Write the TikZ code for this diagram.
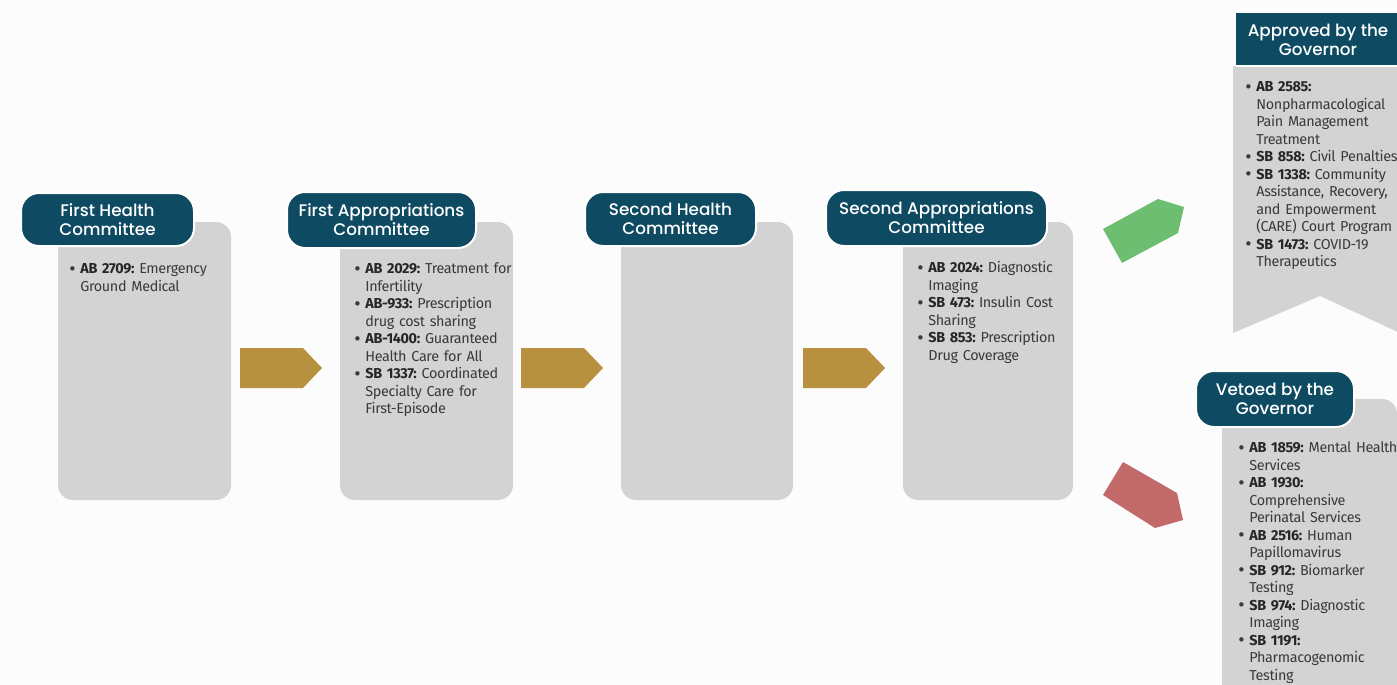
\documentclass[tikz,border=0pt]{standalone}
\usepackage{fontspec}
\setmainfont{Fira Sans}[LetterSpace=-2.5]
\IfFontExistsTF{Poppins Medium}{\newfontfamily\titlefont{Poppins Medium}}{\newfontfamily\titlefont{Poppins}[FakeBold=0.4]}
\definecolor{bgc}{HTML}{FCFCFC}
\definecolor{tealc}{HTML}{0E4A62}
\definecolor{boxgray}{HTML}{D3D3D3}
\definecolor{goldc}{HTML}{B7913F}
\definecolor{greenc}{HTML}{6DBE70}
\definecolor{redc}{HTML}{C26A6A}
\definecolor{bodytext}{HTML}{3A3A3A}
\frenchspacing
\newcommand\bitem[2]{\par\noindent\hangindent=5.5pt\hangafter=1\makebox[5.5pt][l]{\raisebox{-0.2ex}{\scalebox{1.35}{\textbullet}}}\textbf{\color{black!85}#1} #2\par}
\begin{document}
\begin{tikzpicture}[x=0.5pt,y=-0.5pt,
  gbox/.style={fill=boxgray, rounded corners=7.5pt},
  pill/.style={fill=tealc, draw=white, line width=1pt, rounded corners=9pt},
  ttl/.style={text=white, inner sep=0pt, font=\titlefont\fontsize{8.4}{9.5}\selectfont, align=center},
  body/.style={anchor=north west, inner sep=0pt, text=bodytext, font=\frenchspacing\fontsize{7.2}{8.75}\selectfont, align=left, text width=#1},
  goldarrow/.style={fill=goldc},
  okarrow/.style={fill=greenc},
  noarrow/.style={fill=redc}]
\useasboundingbox (0,0) rectangle (1397,685);
\clip (0,0) rectangle (1397,685);
\fill[bgc] (0,0) rectangle (1397,685);

% gray boxes
\fill[gbox] (58,222) rectangle (231,500);
\fill[gbox] (340,222) rectangle (513,500);
\fill[gbox] (621,222) rectangle (793,500);
\fill[gbox] (903,222) rectangle (1073,500);

% title pills
\draw[pill] (21,193) rectangle (194,246);
\node[ttl] (t1) at (107.5,220) {First Health\\Committee};
\draw[pill] (287,192) rectangle (476,248);
\node[ttl] (t2) at (381.5,220) {First Appropriations\\Committee};
\draw[pill] (585,192) rectangle (756,246);
\node[ttl] (t3) at (670.5,219) {Second Health\\Committee};
\draw[pill] (826,190) rectangle (1047,246);
\node[ttl] (t4) at (936.5,218) {Second Appropriations\\Committee};

% body texts
\node[body=100pt] (b1) at (69,256) {\bitem{AB 2709:}{Emergency\newline Ground Medical}};
\node[body=100pt] (b2) at (354,256) {\bitem{AB 2029:}{Treatment for\newline Infertility}\bitem{AB-933:}{Prescription\newline drug cost sharing}\bitem{AB-1400:}{Guaranteed\newline Health Care for All}\bitem{SB 1337:}{Coordinated\newline Specialty Care for\newline First-Episode}};
\node[body=100pt] (b4) at (917,255) {\bitem{AB 2024:}{Diagnostic\newline Imaging}\bitem{SB 473:}{Insulin Cost\newline Sharing}\bitem{SB 853:}{Prescription\newline Drug Coverage}};

% gold arrows
\foreach \x/\n in {240/a1,521/a2,803/a3}{
  \fill[goldarrow] (\x,348) -- (\x+63,348) -- (\x+82,368) -- (\x+63,388) -- (\x,388) -- cycle;
}

% green and red arrows
\fill[okarrow] (1103,229) -- (1158,199) -- (1184,207) -- (1178,233) -- (1122,263) -- cycle;
\fill[noarrow] (1103,495) -- (1123,462) -- (1177,493) -- (1183,520) -- (1155,528) -- cycle;

% approved panel
\fill[boxgray] (1233,66) -- (1400,66) -- (1400,333) -- (1320,296) -- (1233,333) -- cycle;
\fill[tealc] (1236,13) rectangle (1400,65);
\draw[white, line width=0.8pt] (1236,66) -- (1400,66);
\node[ttl] (tapp) at (1318,40) {Approved by the\\Governor};
\node[body=100pt] (bapp) at (1245,74) {\bitem{AB 2585:}{\newline Nonpharmacological\newline Pain Management\newline Treatment}\bitem{SB 858:}{Civil Penalties}\bitem{SB 1338:}{Community\newline Assistance, Recovery,\newline and Empowerment\newline (CARE) Court Program}\bitem{SB 1473:}{COVID-19\newline Therapeutics}};

% vetoed panel
\fill[gbox] (1222,399) rectangle (1397,720);
\draw[pill] (1196,371) rectangle (1354,427);
\node[ttl] (tvet) at (1275,399) {Vetoed by the\\Governor};
\node[body=100pt] (bvet) at (1238,435) {\bitem{AB 1859:}{Mental Health\newline Services}\bitem{AB 1930:}{\newline Comprehensive\newline Perinatal Services}\bitem{AB 2516:}{Human\newline Papillomavirus}\bitem{SB 912:}{Biomarker\newline Testing}\bitem{SB 974:}{Diagnostic\newline Imaging}\bitem{SB 1191:}{\newline Pharmacogenomic\newline Testing}};
\end{tikzpicture}
\end{document}
